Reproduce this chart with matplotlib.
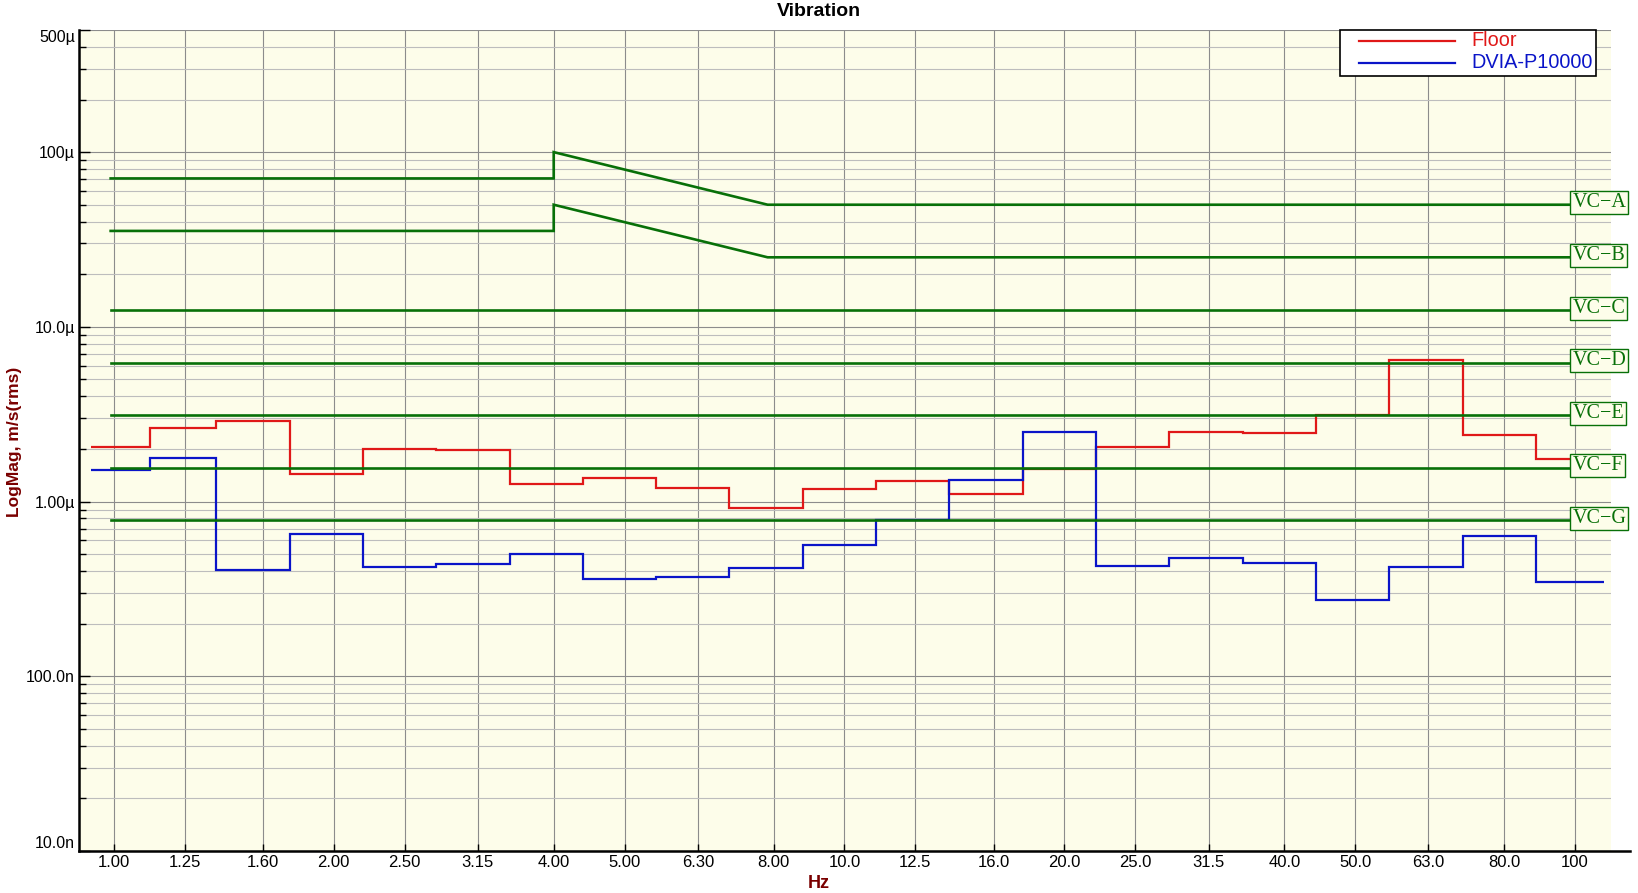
import matplotlib

matplotlib.use("Agg")
import matplotlib.pyplot as plt
import numpy as np
from matplotlib.lines import Line2D
from matplotlib.patches import Rectangle
from matplotlib.ticker import FixedLocator, NullFormatter
from matplotlib.transforms import blended_transform_factory

plt.rcParams["font.family"] = ["Liberation Sans", "DejaVu Sans"]

# 1/3-octave bands (nominal labels), 1 Hz .. 100 Hz
BAND_LABELS = ["1.00", "1.25", "1.60", "2.00", "2.50", "3.15", "4.00", "5.00",
               "6.30", "8.00", "10.0", "12.5", "16.0", "20.0", "25.0", "31.5",
               "40.0", "50.0", "63.0", "80.0", "100"]
BAND_NOMINAL = [1.0, 1.25, 1.6, 2.0, 2.5, 3.15, 4.0, 5.0, 6.3, 8.0, 10.0, 12.5,
                16.0, 20.0, 25.0, 31.5, 40.0, 50.0, 63.0, 80.0, 100.0]

# band levels, um/s rms
SERIES_NAMES = ["Floor", "DVIA-P10000"]
FLOOR = [2.05, 2.62, 2.90, 1.43, 2.00, 1.97, 1.26, 1.37, 1.20, 0.92, 1.18,
         1.31, 1.11, 1.54, 2.05, 2.51, 2.47, 3.12, 6.45, 2.41, 1.76]
DVIA = [1.52, 1.78, 0.405, 0.65, 0.423, 0.44, 0.50, 0.36, 0.37, 0.415, 0.565,
        0.78, 1.33, 2.51, 0.428, 0.476, 0.445, 0.275, 0.421, 0.634, 0.346]
TRACE_START, TRACE_END = 0.93, 109.6  # Hz, first/last drawn band edge
FIRST_EDGE = 1.122  # Hz, boundary between the 1.00 and 1.25 bands

# vibration criteria curves, um/s
VC_NAMES = ["VC\u2212A", "VC\u2212B", "VC\u2212C", "VC\u2212D", "VC\u2212E", "VC\u2212F", "VC\u2212G"]
VC_FREQ = [0.99, 4.0, 4.0, 7.85, 100.0]
VC_CURVES = [
    [70.7, 70.7, 100.0, 50.0, 50.0],
    [35.4, 35.4, 50.0, 25.0, 25.0],
    [12.5] * 5,
    [6.25] * 5,
    [3.12] * 5,
    [1.56] * 5,
    [0.78] * 5,
]

Y_TICKS = [1e-8, 1e-7, 1e-6, 1e-5, 1e-4, 5e-4]
Y_TICK_LABELS = ["10.0n", "100.0n", "1.00\u00b5", "10.0\u00b5", "100\u00b5", "500\u00b5"]

RED = "#E01818"
BLUE = "#0A14C8"
GREEN = "#087008"
BG = "#FDFDEA"
DARKRED = "#7A0000"

W, H = 1638, 893
fig = plt.figure(figsize=(W / 100, H / 100), dpi=100)
L, R, T, B = 79, 1611, 30, 851
ax = fig.add_axes([L / W, 1 - B / H, (R - L) / W, (B - T) / H])
ax.set_facecolor(BG)

# exact base-2 third-octave centres -> band edges
centres = 1000.0 * 2.0 ** (np.arange(-30, -9) / 3.0)
inner = centres[:-1] * 2 ** (1 / 6)
inner[0] = FIRST_EDGE
edges = np.concatenate([[TRACE_START], inner, [TRACE_END]])

ax.stairs(np.array(FLOOR) * 1e-6, edges, baseline=None, color=RED, lw=1.6, zorder=3)
ax.stairs(np.array(DVIA) * 1e-6, edges, baseline=None, color=BLUE, lw=1.6, zorder=3)

trans = blended_transform_factory(ax.transAxes, ax.transData)
for name, vel in zip(VC_NAMES, VC_CURVES):
    v = np.array(vel) * 1e-6
    ax.plot(VC_FREQ, v, color=GREEN, lw=1.9, zorder=4, solid_joinstyle="miter")
    ax.text((1572.5 - L) / (R - L), v[-1] * 1.025, name, transform=trans, ha="left",
            va="center", family=["Liberation Serif", "DejaVu Serif"], fontsize=14.5,
            color=GREEN, clip_on=False, zorder=6,
            bbox=dict(boxstyle="square,pad=0.1", fc=BG, ec=GREEN, lw=1.0))

ax.set_xscale("log")
ax.set_yscale("log")
ax.set_xlim(0.896, 112.0)
ax.set_ylim(1e-8, 5e-4)

ax.xaxis.set_major_locator(FixedLocator(BAND_NOMINAL))
ax.set_xticklabels(BAND_LABELS)
ax.xaxis.set_minor_locator(FixedLocator([]))
ax.xaxis.set_minor_formatter(NullFormatter())

ax.yaxis.set_major_locator(FixedLocator(Y_TICKS))
ax.set_yticklabels(Y_TICK_LABELS)
minors = [m * 10.0 ** d for d in range(-8, -3) for m in range(2, 10)]
minors = [y for y in minors if y < 5e-4 - 1e-12]
ax.yaxis.set_minor_locator(FixedLocator(minors))
ax.yaxis.set_minor_formatter(NullFormatter())
ylabels = ax.get_yticklabels()
ylabels[0].set_va("bottom")
ylabels[-1].set_va("top")

ax.tick_params(axis="both", which="both", direction="in", colors="black",
               labelsize=11.5)
ax.tick_params(axis="y", which="major", length=8, width=1, pad=3)
ax.tick_params(axis="y", which="minor", length=5, width=1)
ax.tick_params(axis="x", which="major", length=5, width=1, pad=3, labelsize=12)

ax.grid(which="major", axis="x", color="#8C8C8C", lw=0.8)
ax.grid(which="major", axis="y", color="#8C8C8C", lw=0.8)
ax.grid(which="minor", axis="y", color="#BDBDBD", lw=0.8)
ax.set_axisbelow(True)

for side in ("top", "right"):
    ax.spines[side].set_visible(False)
ax.spines["left"].set_linewidth(1.8)
ax.spines["bottom"].set_visible(False)
fig.add_artist(Line2D([L / W, 1630 / W], [1 - B / H, 1 - B / H], color="black",
                      lw=1.8, transform=fig.transFigure))

# legend box drawn by hand (pixel layout of the original)
fig.add_artist(Rectangle((1340 / W, 1 - 76 / H), 256 / W, 46 / H, fc="white",
                         ec="black", lw=1.2, transform=fig.transFigure, zorder=10))
for name, color, ypx in zip(SERIES_NAMES, [RED, BLUE], [41, 63]):
    fig.add_artist(Line2D([1359 / W, 1455 / W], [1 - ypx / H] * 2, color=color,
                          lw=1.6, transform=fig.transFigure, zorder=11))
    fig.text(1471 / W, 1 - ypx / H, name, ha="left", va="center", fontsize=14.3,
             color=color, zorder=11)

fig.text(0.5, 1 - 12 / H, "Vibration", ha="center", va="center", fontsize=14,
         fontweight="bold")
fig.text(15 / W, 1 - 442 / H, "LogMag, m/s(rms)", rotation=90, ha="center",
         va="center", fontsize=12.5, fontweight="bold", color=DARKRED)
fig.text(0.5, 1 - 883 / H, "Hz", ha="center", va="center", fontsize=13,
         fontweight="bold", color=DARKRED)

fig.savefig("out.png", dpi=100)
